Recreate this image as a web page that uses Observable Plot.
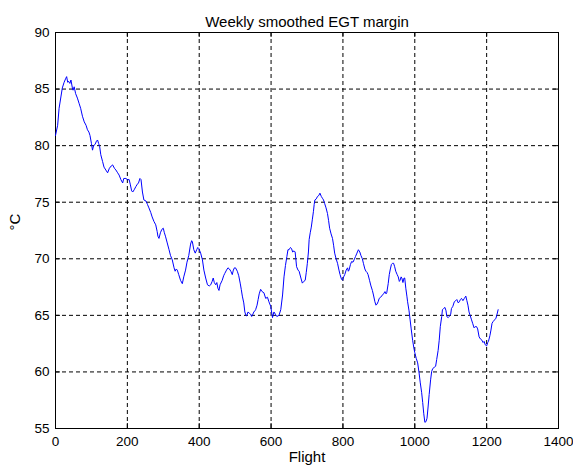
<!DOCTYPE html>
<html>
<head>
<meta charset="utf-8">
<script src="https://cdn.jsdelivr.net/npm/d3@7"></script>
<script src="https://cdn.jsdelivr.net/npm/@observablehq/plot@0.6"></script>
<style>
  html, body { margin: 0; padding: 0; background: #ffffff; }
  #chart svg { display: block; overflow: visible; }
</style>
</head>
<body>
<div id="chart"></div>
<script>
// Smoothed EGT margin by flight number
const flights = [
  0, 6, 10, 15, 19, 24, 28, 31, 34, 36, 40, 43, 47, 49, 52, 56, 61, 66, 70, 75,
  80, 85, 89, 93, 96, 100, 103, 106, 110, 114, 117, 120, 123, 126, 131, 135, 140, 145, 150, 155,
  159, 164, 168, 173, 177, 182, 187, 190, 196, 200, 205, 208, 212, 215, 219, 224, 228, 231, 235, 238,
  242, 246, 252, 256, 260, 265, 269, 274, 279, 283, 285, 288, 292, 296, 300, 303, 306, 311, 316, 320,
  325, 330, 333, 336, 339, 343, 348, 353, 357, 362, 366, 371, 376, 379, 381, 385, 389, 393, 396, 399,
  404, 409, 413, 418, 423, 428, 432, 436, 439, 442, 446, 449, 452, 455, 458, 464, 468, 471, 476, 480,
  484, 488, 492, 495, 498, 501, 506, 510, 514, 517, 520, 524, 527, 530, 532, 536, 539, 543, 546, 548,
  552, 555, 557, 561, 564, 567, 571, 575, 580, 585, 590, 594, 599, 602, 604, 608, 612, 616, 622, 627,
  632, 636, 640, 644, 647, 650, 654, 657, 660, 664, 667, 671, 675, 678, 683, 687, 691, 695, 698, 701,
  704, 706, 709, 712, 715, 718, 720, 722, 726, 729, 733, 736, 740, 743, 746, 749, 753, 757, 760, 763,
  767, 771, 774, 777, 781, 785, 789, 792, 796, 799, 802, 805, 809, 813, 815, 817, 821, 824, 828, 831,
  835, 839, 843, 847, 850, 854, 857, 861, 864, 867, 870, 874, 878, 882, 885, 889, 892, 895, 898, 901,
  905, 910, 913, 917, 920, 922, 926, 929, 932, 935, 938, 941, 944, 947, 951, 954, 957, 959, 962, 964,
  967, 970, 972, 975, 978, 980, 984, 987, 990, 994, 997, 1000, 1004, 1008, 1012, 1015, 1019, 1022, 1025, 1028,
  1031, 1034, 1037, 1040, 1044, 1047, 1050, 1054, 1058, 1061, 1065, 1068, 1071, 1075, 1077, 1080, 1084, 1087, 1089, 1093,
  1096, 1100, 1102, 1106, 1110, 1114, 1117, 1121, 1124, 1127, 1130, 1134, 1138, 1142, 1145, 1148, 1151, 1154, 1158, 1161,
  1165, 1168, 1172, 1175, 1179, 1183, 1187, 1190, 1193, 1196, 1200, 1203, 1205, 1209, 1212, 1215, 1218, 1222, 1226, 1229,
  1232
];
const margins = [
  80.9, 81.8, 83.3, 84.3, 85.1, 85.6, 85.9, 86.1, 85.6, 85.7, 85.5, 85.8, 85.1, 84.9, 85.2, 84.6, 84.2, 83.7, 83.3, 82.6,
  82.1, 81.8, 81.4, 81.2, 80.9, 80.2, 79.6, 80.0, 80.1, 80.4, 80.5, 80.2, 79.9, 79.2, 78.6, 78.1, 77.85, 77.6, 78.0, 78.2,
  78.3, 78.0, 77.85, 77.6, 77.4, 77.0, 76.7, 77.1, 77.1, 77.0, 77.0, 76.6, 76.0, 75.9, 76.1, 76.4, 76.6, 76.7, 77.1, 77.0,
  75.9, 75.2, 75.1, 74.8, 74.5, 74.1, 73.7, 73.3, 73.0, 72.4, 72.0, 71.8, 72.3, 72.6, 72.7, 72.3, 72.0, 71.4, 70.8, 70.3,
  69.9, 69.2, 68.9, 69.1, 69.0, 68.6, 68.1, 67.8, 68.4, 69.0, 69.7, 70.3, 71.3, 71.6, 71.5, 70.8, 70.5, 70.8, 71.0, 70.9,
  70.5, 69.9, 69.0, 68.3, 67.7, 67.6, 67.7, 68.0, 68.3, 67.9, 67.7, 67.9, 67.4, 67.2, 67.7, 68.1, 68.5, 68.7, 69.0, 69.2,
  69.1, 68.9, 68.6, 69.0, 69.2, 69.2, 68.9, 68.5, 67.85, 67.3, 66.7, 66.1, 65.3, 65.0, 64.95, 65.3, 65.2, 65.1, 64.9, 65.0,
  65.3, 65.4, 65.5, 65.9, 66.4, 66.9, 67.3, 67.1, 67.0, 66.5, 66.6, 66.2, 65.8, 65.2, 64.8, 65.3, 65.1, 64.9, 65.0, 65.5,
  66.8, 68.4, 69.4, 70.2, 70.8, 70.8, 71.0, 70.9, 70.6, 70.7, 70.6, 69.3, 69.0, 68.9, 68.3, 67.85, 68.0, 68.1, 68.8, 69.6,
  70.6, 71.7, 72.3, 72.8, 73.5, 74.2, 74.8, 75.2, 75.3, 75.5, 75.6, 75.8, 75.5, 75.35, 75.2, 74.9, 74.5, 74.0, 73.4, 72.7,
  72.2, 71.8, 71.2, 70.5, 70.0, 69.6, 69.0, 68.6, 68.2, 68.1, 68.4, 68.6, 69.0, 69.2, 68.9, 69.0, 69.5, 69.75, 69.7, 69.9,
  70.2, 70.5, 70.8, 70.6, 70.3, 70.0, 69.6, 69.1, 68.9, 68.8, 68.6, 68.1, 67.6, 67.2, 66.8, 66.2, 65.9, 66.0, 66.2, 66.5,
  66.6, 66.8, 66.9, 67.1, 66.9, 67.0, 67.8, 68.6, 69.1, 69.5, 69.6, 69.6, 69.3, 68.9, 68.6, 68.4, 68.0, 68.1, 68.4, 68.3,
  67.9, 68.3, 68.3, 67.4, 66.7, 66.2, 65.4, 64.6, 63.8, 62.8, 62.2, 61.7, 61.2, 60.8, 59.9, 59.1, 58.2, 57.3, 56.3, 55.55,
  55.6, 55.9, 56.9, 58.0, 59.3, 60.05, 60.3, 60.4, 60.5, 61.1, 61.9, 62.8, 64.0, 64.9, 65.5, 65.6, 65.7, 65.4, 64.9, 64.8,
  64.9, 65.1, 65.6, 65.8, 66.2, 66.3, 66.4, 66.1, 66.2, 66.4, 66.5, 66.3, 66.5, 66.7, 66.3, 65.9, 65.3, 65.0, 64.6, 64.3,
  63.9, 64.0, 64.0, 63.8, 63.1, 62.9, 62.8, 62.6, 62.7, 62.4, 62.3, 62.6, 62.7, 63.2, 63.7, 64.3, 64.45, 64.6, 64.75, 65.1,
  65.5
];
const xTicks = [0, 200, 400, 600, 800, 1000, 1200, 1400];
const yTicks = [55, 60, 65, 70, 75, 80, 85, 90];
const titleText = "Weekly smoothed EGT margin";
const xLabel = "Flight";
const yLabel = "°C";

const series = flights.map((f, i) => ({flight: f, margin: margins[i]}));

const W = 573, H = 471;
const mL = 55, mR = 15, mT = 32, mB = 43;
const innerW = W - mL - mR, innerH = H - mT - mB;
const tickLen = 5;
const font = "Arial, 'Liberation Sans', Helvetica, sans-serif";
const plain = d => String(d);

const chart = Plot.plot({
  width: W,
  height: H,
  marginLeft: mL,
  marginRight: mR,
  marginTop: mT,
  marginBottom: mB,
  style: {background: "#ffffff", fontFamily: font, fontSize: "13px", color: "#000", overflow: "visible"},
  x: {domain: [0, 1400], ticks: xTicks},
  y: {domain: [55, 90], ticks: yTicks},
  marks: [
    // dotted grid
    Plot.gridX(xTicks, {stroke: "#000", strokeOpacity: 1, strokeDasharray: "4,3"}),
    Plot.gridY(yTicks, {stroke: "#000", strokeOpacity: 1, strokeDasharray: "4,3"}),
    // inward tick marks on all four sides
    Plot.tickX(xTicks, {x: d => d, stroke: "#000", insetTop: innerH - tickLen}),
    Plot.tickX(xTicks, {x: d => d, stroke: "#000", insetBottom: innerH - tickLen}),
    Plot.tickY(yTicks, {y: d => d, stroke: "#000", insetRight: innerW - tickLen}),
    Plot.tickY(yTicks, {y: d => d, stroke: "#000", insetLeft: innerW - tickLen}),
    Plot.axisX(xTicks, {tickSize: 0, tickPadding: 8, label: null, fontSize: 13.5, tickFormat: plain}),
    Plot.axisY(yTicks, {tickSize: 0, tickPadding: 6, label: null, fontSize: 13.5, tickFormat: plain}),
    Plot.frame({stroke: "#000"}),
    Plot.line(series, {x: "flight", y: "margin", stroke: "#0000ff", strokeWidth: 1}),
    // title and axis labels
    Plot.text([titleText], {frameAnchor: "top", dy: -16, fontSize: 15, fill: "#000"}),
    Plot.text([xLabel], {frameAnchor: "bottom", dy: 33, fontSize: 15, fill: "#000"}),
    Plot.text([yLabel], {frameAnchor: "left", dx: -40, rotate: -90, fontSize: 15, fill: "#000"})
  ]
});

document.getElementById("chart").append(chart);
</script>
</body>
</html>
